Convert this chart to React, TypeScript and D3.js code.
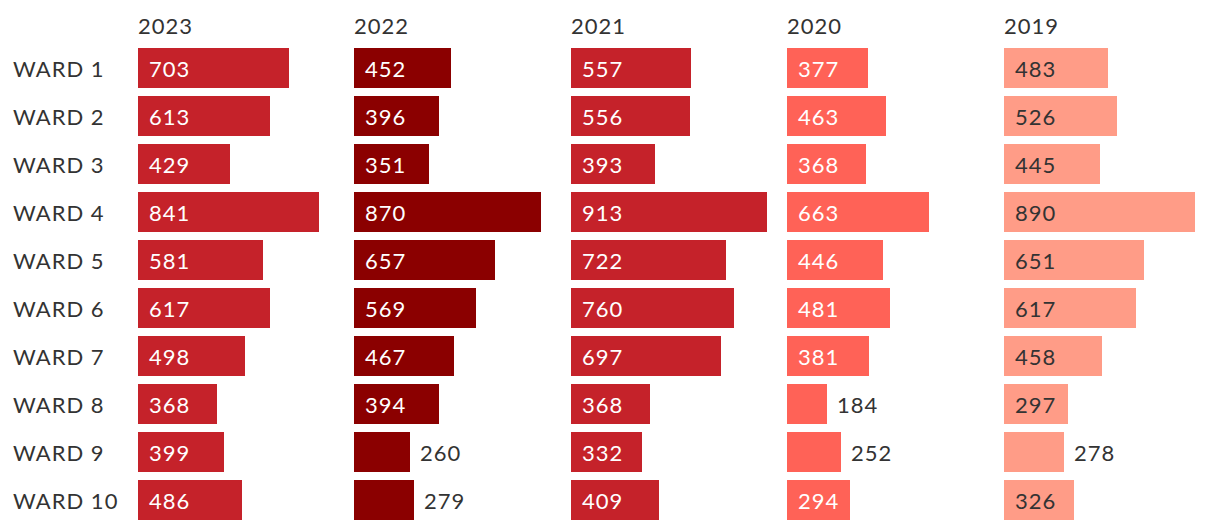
import React from "react";
import * as d3 from "d3";

const wards = ["WARD 1","WARD 2","WARD 3","WARD 4","WARD 5","WARD 6","WARD 7","WARD 8","WARD 9","WARD 10"];
const years = ["2023","2022","2021","2020","2019"];
const v2023 = [703,613,429,841,581,617,498,368,399,486];
const v2022 = [452,396,351,870,657,569,467,394,260,279];
const v2021 = [557,556,393,913,722,760,697,368,332,409];
const v2020 = [377,463,368,663,446,481,381,184,252,294];
const v2019 = [483,526,445,890,651,617,458,297,278,326];
const seriesValues = [v2023, v2022, v2021, v2020, v2019];
const barColors = ["#c5222a", "#8b0000", "#c5222a", "#ff6257", "#ff9c87"];
const insideText = ["#ffffff", "#ffffff", "#ffffff", "#ffffff", "#333333"];

export default function App() {
  const W = 1220, H = 530;
  const font = "Lato, 'Open Sans', sans-serif";
  const col = d3.scaleBand<string>().domain(years).range([138, 138 + 216.5 * 5]).paddingInner(0).paddingOuter(0);
  const y = d3.scaleBand<string>().domain(wards).range([48, 48 + 48 * 10 - 8]).paddingInner(8 / 48).paddingOuter(0);
  const x = d3.scaleLinear().domain([0, 913]).range([0, 196]);
  const threshold = 62;
  const ls = 1;
  return (
    <svg width={W} height={H} style={{ position: "absolute", left: 0, top: 0, fontFamily: font }}>
      {years.map((yr) => (
        <text key={yr} x={Math.floor(col(yr) as number)} y={34} fontSize={22} fill="#333" letterSpacing={ls}>{yr}</text>
      ))}
      {wards.map((w) => (
        <text key={w} x={13} y={(y(w) as number) + y.bandwidth() / 2 + 9} fontSize={22} fill="#333" letterSpacing={ls}>{w}</text>
      ))}
      {years.map((yr, si) => {
        const x0 = Math.floor(col(yr) as number);
        return (
          <g key={yr}>
            {seriesValues[si].map((v, i) => {
              const bw = Math.round(x(v));
              const yy = y(wards[i]) as number;
              const inside = bw >= threshold;
              return (
                <g key={i}>
                  <rect x={x0} y={yy} width={bw} height={y.bandwidth()} fill={barColors[si]} />
                  <text x={inside ? x0 + 11 : x0 + bw + 10} y={yy + y.bandwidth() / 2 + 9} fontSize={22}
                    letterSpacing={ls} fill={inside ? insideText[si] : "#333"}>{v}</text>
                </g>
              );
            })}
          </g>
        );
      })}
    </svg>
  );
}
